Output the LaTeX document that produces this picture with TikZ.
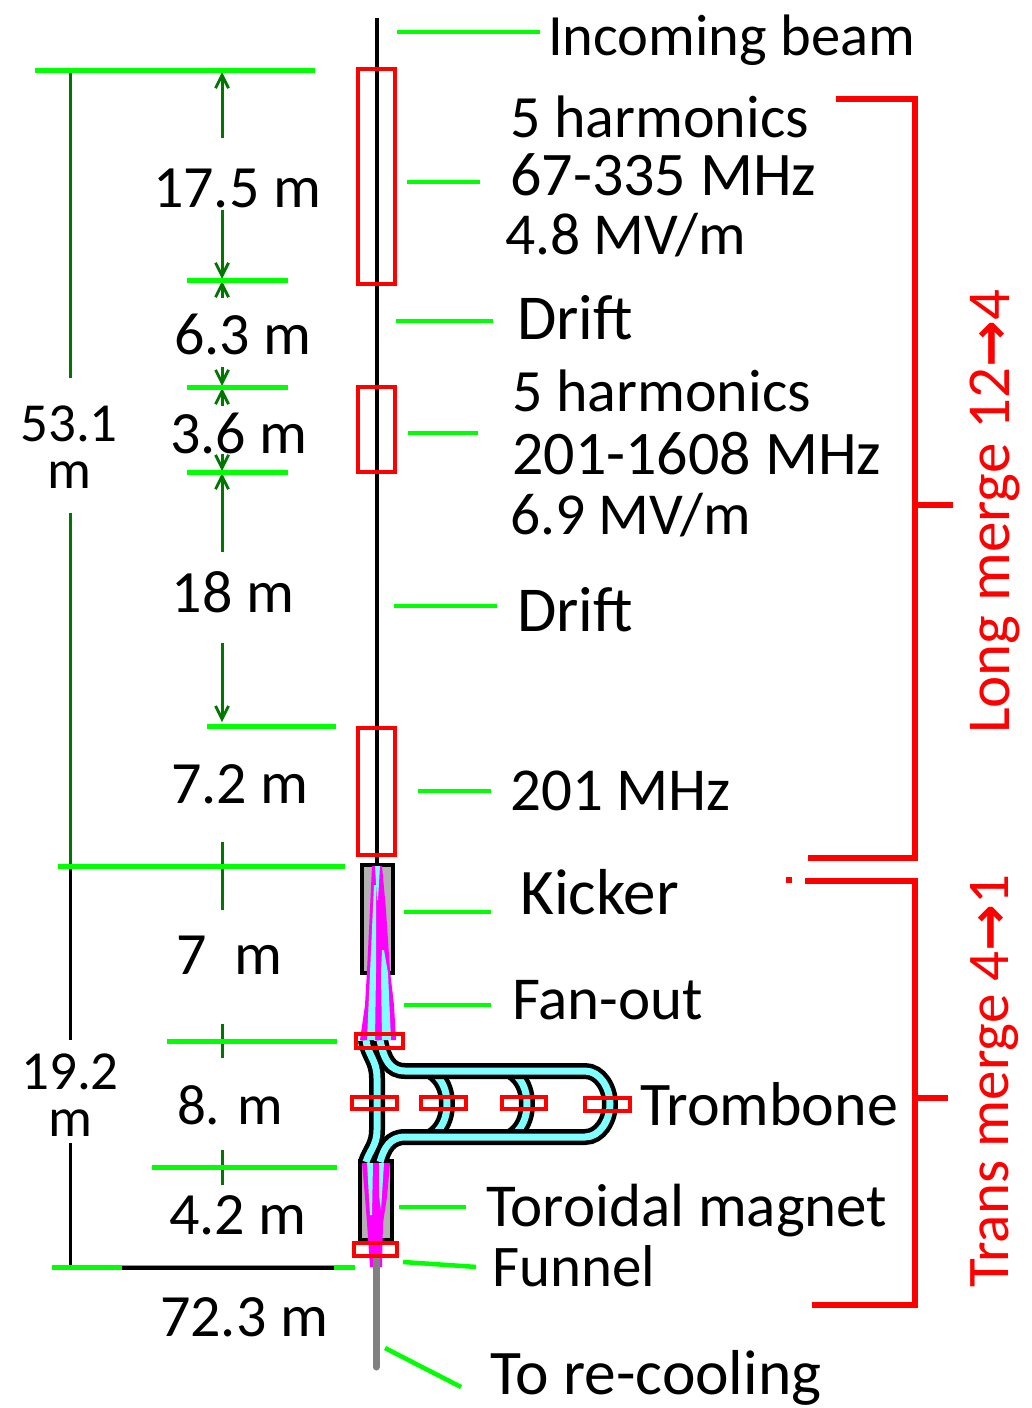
\documentclass[tikz,border=0pt]{standalone}
\usepackage{fontspec}
\setmainfont{Carlito}
\newfontfamily\arrowfont{DejaVu Sans}
\usepackage{xcolor}
\usepackage{tikz}
\usetikzlibrary{arrows.meta,positioning,calc}
\definecolor{tickgreen}{HTML}{00FF00}
\definecolor{dimgreen}{HTML}{007700}
\definecolor{beamcyan}{HTML}{7FFFFF}
\definecolor{fanpink}{HTML}{FF00FF}
\newcommand{\fsz}[1]{\fontsize{#1}{#1}\selectfont}
\tikzset{
  lbl/.style={anchor=west, inner sep=0pt, text height=36pt, text depth=0pt, font=\fsz{61}},
  dimlbl/.style={inner sep=0pt, text height=40pt, text depth=0pt, font=\fsz{60}},
  sidelbl/.style={inner sep=0pt, align=center, font=\fontsize{55}{47}\selectfont},
  mergelbl/.style={inner sep=0pt, rotate=90, red, font=\fsz{61}},
  leader/.style={draw=tickgreen, line width=4.5pt},
  tick/.style={draw=tickgreen, line width=5pt},
  dimline/.style={draw=dimgreen, line width=3pt},
  dimarrow/.style={dimline, -{Straight Barb[length=13pt,width=13pt,line width=2.8pt]}},
  cavity/.style={draw=red, line width=3.5pt},
  bracket/.style={draw=red, line width=6pt},
  magnet/.style={draw=black, fill=black!30, line width=4pt},
  tromb/.style={draw=black, line width=4.5pt, double=beamcyan, double distance=7pt},
}
\begin{document}
\begin{tikzpicture}[x=1pt,y=-1pt]
  \useasboundingbox (0,0) rectangle (1032,1408);

  % dimension lines, left side
  \draw[dimline] (70,72) -- (70,378);
  \draw[dimline] (70,513) -- (70,866);
  \draw[line width=3pt] (70,866) -- (70,1040);
  \draw[line width=3pt] (70,1143) -- (70,1267);
  \draw[dimarrow] (222,138) -- (222,72);
  \draw[dimarrow] (222,210) -- (222,279);
  \draw[dimarrow] (222,298) -- (222,281);
  \draw[dimarrow] (222,367) -- (222,386);
  \draw[dimarrow] (222,406) -- (222,388);
  \draw[dimarrow] (222,454) -- (222,471);
  \draw[dimarrow] (222,552) -- (222,473);
  \draw[dimarrow] (222,643) -- (222,722);
  \draw[dimline] (222,842) -- (222,910);
  \draw[dimline] (222,1024) -- (222,1058);
  \draw[dimline] (222,1150) -- (222,1185);

  % ticks
  \draw[tick] (35,70) -- (315,70);
  \draw[tick] (187,280) -- (288,280);
  \draw[tick] (187,387) -- (288,387);
  \draw[tick] (187,472) -- (288,472);
  \draw[tick] (207,726) -- (336,726);
  \draw[tick] (58,866) -- (345,866);
  \draw[tick] (167,1041) -- (337,1041);
  \draw[tick] (152,1167) -- (337,1167);
  \draw[tick] (52,1267) -- (355,1267);
  \draw[line width=4pt] (122,1268) -- (334,1268);

  % beam line
  \draw[line width=4.5pt] (377,18) -- (377,870);
  \draw[gray, line width=7pt, line cap=round] (376,1250) -- (376,1367);

  % kicker and toroid
  \draw[magnet] (362,865) rectangle (393,973);
  \draw[magnet] (360,1161) rectangle (392,1240);

  % trombone
  \draw[tromb] (366,1040) .. controls (368,1056) and (377,1060) .. (377,1078) -- (377,1130) .. controls (377,1145) and (370,1150) .. (366,1162);
  \draw[tromb] (430,1071) .. controls (442,1078) and (447,1090) .. (447,1104) .. controls (447,1118) and (442,1130) .. (430,1137);
  \draw[tromb] (510,1071) .. controls (522,1078) and (527,1090) .. (527,1104) .. controls (527,1118) and (522,1130) .. (510,1137);
  \draw[tromb] (380,1040) .. controls (384,1060) and (390,1071) .. (405,1071) -- (585,1071) .. controls (600,1071) and (610,1088) .. (610,1104) .. controls (610,1120) and (600,1137) .. (585,1137) -- (405,1137) .. controls (390,1137) and (384,1148) .. (380,1162);

  % fan-out
  \fill[fanpink] (372,866) -- (382,866) -- (386,910) -- (390,971) -- (394,1005) -- (396,1040) -- (360,1040) -- (365,1005) -- (367,971) -- (369,930) -- cycle;
  \fill[beamcyan] (375,866) -- (380,866) -- (378,900) -- (377,900) -- cycle;
  \fill[beamcyan] (374,885) -- (376,885) -- (376,973) -- (375,1040) -- (367,1040) -- (370,973) -- cycle;
  \fill[beamcyan] (382,950) -- (384,950) -- (388,973) -- (391,1040) -- (382,1040) -- (381,973) -- cycle;
  \fill[fanpink] (362,1163) -- (390,1163) -- (387,1197) -- (383,1223) -- (382,1267) -- (370,1267) -- (367,1223) -- (365,1197) -- cycle;
  \fill[beamcyan] (367,1163) -- (373,1163) -- (372,1215) -- (370,1215) -- cycle;
  \fill[beamcyan] (379,1163) -- (384,1163) -- (381,1210) -- (379,1195) -- cycle;
  \draw[gray, line width=7pt] (376,1255) -- (376,1275);

  % cavities
  \draw[cavity] (358,69) rectangle (395,284);
  \draw[cavity] (358,387) rectangle (395,472);
  \draw[cavity] (358,728) rectangle (395,855);
  \draw[cavity] (356,1034) rectangle (403,1048);
  \draw[cavity] (352,1097) rectangle (397,1109);
  \draw[cavity] (421,1097) rectangle (466,1109);
  \draw[cavity] (502,1097) rectangle (546,1109);
  \draw[cavity] (585,1098) rectangle (630,1111);
  \draw[cavity] (354,1243) rectangle (397,1256);

  % labels, right of the beam
  \node[lbl, font=\fsz{58.5}] (incoming) at (548,37) {Incoming beam};
  \node[lbl, font=\fsz{60}] (harmA) at (510,119) {5 harmonics};
  \node[lbl, font=\fsz{62}] (freqA) at (510,177) {67-335 MHz};
  \node[lbl, font=\fsz{59.5}] (gradA) at (505,236) {4.8 MV/m};
  \node[lbl, font=\fsz{64}] (driftA) at (517,321) {Drift};
  \node[lbl, font=\fsz{60}] (harmB) at (512,393) {5 harmonics};
  \node[lbl, font=\fsz{62}] (freqB) at (512,456) {201-1608 MHz};
  \node[lbl, font=\fsz{59.5}] (gradB) at (510,516) {6.9 MV/m};
  \node[lbl, font=\fsz{64}] (driftB) at (517,613) {Drift};
  \node[lbl] (rf) at (510,792) {201 MHz};
  \node[lbl, font=\fsz{65}] (kicker) at (520,896) {Kicker};
  \node[lbl] (fanout) at (512,1001) {Fan-out};
  \node[lbl, font=\fsz{62}] (trombone) at (640,1107) {Trombone};
  \node[lbl] (toroid) at (486,1208) {Toroidal magnet};
  \node[lbl, font=\fsz{59}] (funnel) at (492,1268) {Funnel};
  \node[lbl, font=\fsz{63.5}] (recool) at (490,1376) {To re-cooling};

  % labels, dimensions
  \node[dimlbl] (lenA) at (237,187) {17.5 m};
  \node[dimlbl] (lenB) at (243,334) {6.3 m};
  \node[dimlbl] (lenC) at (239,433) {3.6 m};
  \node[dimlbl] (lenD) at (233,592) {18 m};
  \node[dimlbl] (lenE) at (240,783) {7.2 m};
  \node[dimlbl] (lenF) at (229,954) {7\hspace{14pt} m};
  \node[dimlbl, font=\fsz{57}] (lenG) at (230,1104) {8. m};
  \node[dimlbl] (lenH) at (238,1214) {4.2 m};
  \node[dimlbl] (lenI) at (244,1316) {72.3 m};
  \node[sidelbl] (lenJ) at (69,447) {53.1\\m};
  \node[sidelbl] (lenK) at (70,1095) {19.2\\m};

  % leaders
  \coordinate (tapA) at (397,32);
  \coordinate (tapB) at (407,182);
  \coordinate (tapC) at (396,321);
  \coordinate (tapD) at (408,433);
  \coordinate (tapE) at (394,606);
  \coordinate (tapF) at (418,791);
  \coordinate (tapG) at (404,912);
  \coordinate (tapH) at (404,1005);
  \coordinate (tapI) at (399,1207);
  \coordinate (tapJ) at (403,1262);
  \coordinate (tapK) at (385,1348);
  \coordinate (endK) at (461,1387);
  \draw[leader, shorten >=8pt] (tapA) -- (tapA -| incoming.west);
  \draw[leader, shorten >=30pt] (tapB) -- (tapB -| freqA.west);
  \draw[leader, shorten >=24pt] (tapC) -- (tapC -| driftA.west);
  \draw[leader, shorten >=34pt] (tapD) -- (tapD -| freqB.west);
  \draw[leader, shorten >=20pt] (tapE) -- (tapE -| driftB.west);
  \draw[leader, shorten >=19pt] (tapF) -- (tapF -| rf.west);
  \draw[leader, shorten >=29pt] (tapG) -- (tapG -| kicker.west);
  \draw[leader, shorten >=21pt] (tapH) -- (tapH -| fanout.west);
  \draw[leader, shorten >=20pt] (tapI) -- (tapI -| toroid.west);
  \draw[leader, shorten >=16pt] (tapJ) -- (funnel.west);
  \draw[leader] (tapK) -- (endK);

  % merge brackets
  \draw[bracket] (836,99) -- (915,99) -- (915,858) -- (808,858);
  \draw[bracket] (915,505) -- (953,505);
  \draw[bracket] (805,881) -- (915,881) -- (915,1305) -- (812,1305);
  \draw[bracket] (915,1098) -- (948,1098);
  \draw[bracket] (786,880) -- (792,880);
  \node[mergelbl] (longmerge) at (995,512) {Long merge 12{\arrowfont\bfseries\fsz{56}→}4};
  \node[mergelbl, font=\fsz{59}] (transmerge) at (995,1081) {Trans merge 4{\arrowfont\bfseries\fsz{56}→}1};
\end{tikzpicture}
\end{document}
